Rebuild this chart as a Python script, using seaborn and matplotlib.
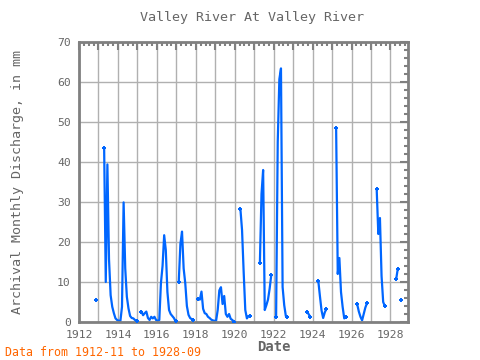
import numpy as np
import pandas as pd
import seaborn as sns
import matplotlib.pyplot as plt
from matplotlib.ticker import MultipleLocator

nan = np.nan

# monthly discharge (mm), Jan..Dec, nan = no data
q1912 = [nan, nan, nan, nan, nan, nan, nan, nan, nan, nan, 5.5, nan]
q1913 = [nan, nan, nan, 43.4, 10, 39.4, 15.7, 6.7, 3.8, 2.2, 0.9, 0.5]
q1914 = [0.3, 0.2, 3.8, 29.9, 13.4, 6.3, 3.4, 1.5, 1.0, 0.9, 0.5, 0.3]
q1915 = [nan, nan, 2.6, 1.7, 2.2, 2.6, 1.0, 0.5, 1.3, 0.9, 1.3, 0.5]
q1916 = [0.3, 0.5, 9.7, 14, 21.7, 18, 7.5, 3, 2, 1.5, 1.0, 0.2]
q1917 = [nan, 10.1, 19.5, 22.6, 13.4, 9.7, 4, 1.8, 1.0, 0.7, 0.5, nan]
q1918 = [nan, 5.7, 5.6, 7.6, 3.3, 2.2, 2.0, 1.3, 1.0, 0.6, 0.4, 0.3]
q1919 = [0.3, 3, 7.9, 8.7, 4.5, 6.5, 2.0, 1.3, 2.0, 0.8, 0.5, 0.1]
q1920 = [nan, nan, nan, 28.2, 23, 12.5, 3, 0.9, 1.5, 1.5, nan, nan]
q1921 = [nan, nan, nan, 14.8, 32, 38, 3, 4.2, 5.6, 8.3, 11.7, nan]
q1922 = [nan, 1.3, 45, 60.7, 63.4, 8.75, 4.2, 1.5, 1.3, nan, nan, nan]
q1923 = [nan, nan, nan, nan, nan, nan, nan, nan, 2.5, 2.0, 1.3, nan]
q1924 = [nan, nan, nan, 10.3, 6.5, 2.9, 1.0, 2.4, 3.3, nan, nan, nan]
q1925 = [nan, nan, 48.4, 12, 16, 7.5, 3.8, 0.9, 1.3, nan, nan, nan]
q1926 = [nan, nan, nan, 4.4, 2.6, 1.3, 0.4, 2.0, 3.6, 4.7, nan, nan]
q1927 = [nan, nan, nan, 33.2, 22, 26, 11.5, 5, 4, nan, nan, nan]
q1928 = [nan, nan, nan, 10.7, 13.3, nan, 5.5, nan, nan, nan, nan, nan]

years = list(range(1912, 1929))
yearly = [q1912, q1913, q1914, q1915, q1916, q1917, q1918, q1919, q1920,
          q1921, q1922, q1923, q1924, q1925, q1926, q1927, q1928]

rows = []
for yr, vals in zip(years, yearly):
    for m, v in enumerate(vals):
        rows.append((yr + (m + 0.5) / 12, v))
df = pd.DataFrame(rows, columns=["t", "q"])
df["seg"] = df["q"].isna().cumsum()
prev_na = df["q"].shift(1).isna()
next_na = df["q"].shift(-1).isna()
df["edge"] = df["q"].notna() & (prev_na | next_na)
d = df.dropna(subset=["q"])

sns.set_style("white")
plt.rcParams["font.family"] = ["DejaVu Sans Mono"]

gray = "#666666"
blue = "#0066ff"

fig = plt.figure(figsize=(4.8, 3.6), dpi=100)
ax = fig.add_axes([79 / 480, 38 / 360, 329 / 480, 280 / 360])

sns.lineplot(data=d, x="t", y="q", units="seg", estimator=None,
             color=blue, lw=1.6, ax=ax, legend=False)
sns.scatterplot(data=d[d["edge"]], x="t", y="q", color=blue, marker="P",
                s=12, linewidth=0, ax=ax, legend=False, zorder=3)

ax.set_xlim(1912, 1928.9)
ax.set_ylim(0, 70)
ax.xaxis.set_major_locator(MultipleLocator(1))
ax.xaxis.set_minor_locator(MultipleLocator(0.25))
ax.yaxis.set_major_locator(MultipleLocator(10))
ax.yaxis.set_minor_locator(MultipleLocator(2))
ax.set_xticklabels([str(int(t)) if int(round(t)) % 2 == 0 else ""
                    for t in ax.get_xticks()])
ax.grid(True, which="major", color="#b0b0b0", lw=1)
ax.set_axisbelow(True)

for s in ax.spines.values():
    s.set_color("#808080")
    s.set_linewidth(2)
ax.tick_params(which="both", direction="in", top=True, right=True,
               color="#808080", labelcolor=gray, labelsize=8.2, width=1.5)
ax.tick_params(which="major", length=6, pad=6)
ax.tick_params(which="minor", length=3)

ylabs = ax.get_yticklabels()
ylabs[0].set_va("bottom")
ylabs[-1].set_va("top")

ax.set_xlabel("")
ax.set_ylabel("Archival Monthly Discharge, in mm", color=gray, fontsize=9.6)
ax.yaxis.set_label_coords((24 - 79) / 329, 0.5)

fig.text(252 / 480, 1 - 18 / 360, "Valley River At Valley River",
         ha="center", va="center", color=gray, fontsize=9.6)
fig.text(274 / 480, 1 - 347 / 360, "Date", ha="center", va="center",
         color=gray, fontsize=10, fontweight="bold")
fig.text(5 / 480, 1 - 352 / 360, "Data from 1912-11 to 1928-09",
         ha="left", va="center", color="#ff6600", fontsize=8.4)

fig.savefig("out.png", dpi=100)
